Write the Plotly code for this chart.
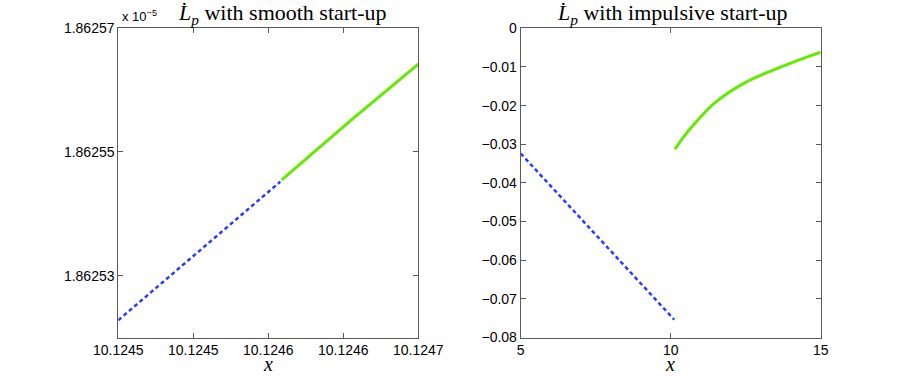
import plotly.graph_objects as go
from plotly.subplots import make_subplots

# left panel: smooth start-up (y in units of 1e-5)
smooth_x_before = [10.12450, 10.124550, 10.124608]
smooth_y_before = [1.8625228, 1.8625332, 1.8625452]
smooth_x_after = [10.124609, 10.124655, 10.12470]
smooth_y_after = [1.8625455, 1.8625551, 1.8625642]
smooth_xticks = [10.12450, 10.12455, 10.12460, 10.12465, 10.12470]
smooth_xticklabels = ["10.1245", "10.1245", "10.1246", "10.1246", "10.1247"]
smooth_yticks = [1.86253, 1.86255, 1.86257]

# right panel: impulsive start-up
imp_x_before = [5.0, 7.59, 10.12]
imp_y_before = [-0.0324, -0.0541, -0.0754]
imp_x_after = [10.14, 10.4, 10.75, 11.42, 12.42, 13.42, 14.31, 15.0]
imp_y_after = [-0.0313, -0.0284, -0.0251, -0.0196, -0.0143, -0.0108, -0.0081, -0.0062]
imp_yticks = [-0.08, -0.07, -0.06, -0.05, -0.04, -0.03, -0.02, -0.01, 0]

BLUE = "rgb(40,60,255)"
GREEN = "rgb(100,235,0)"
AXIS = "rgb(90,90,90)"
sans = "Liberation Sans, Arial, sans-serif"
serif = "Liberation Serif, DejaVu Serif, serif"
tick_font = dict(family=sans, size=14, color="black")

W, H = 914, 381


def px_x(s):
    return s / W


def px_y(s):
    return 1 - s / H


fig = make_subplots(rows=1, cols=2)

fig.add_trace(go.Scatter(x=smooth_x_before, y=smooth_y_before, mode="lines",
                         line=dict(color=BLUE, width=2.5, dash="4px,3px")), 1, 1)
fig.add_trace(go.Scatter(x=smooth_x_after, y=smooth_y_after, mode="lines",
                         line=dict(color=GREEN, width=3)), 1, 1)
fig.add_trace(go.Scatter(x=imp_x_before, y=imp_y_before, mode="lines",
                         line=dict(color=BLUE, width=2.5, dash="4px,3px")), 1, 2)
fig.add_trace(go.Scatter(x=imp_x_after, y=imp_y_after, mode="lines", line_shape="spline",
                         line=dict(color=GREEN, width=3)), 1, 2)

axis_common = dict(showgrid=False, zeroline=False, showline=True, linecolor=AXIS, linewidth=1,
                   mirror="ticks", ticks="inside", ticklen=5, tickcolor=AXIS,
                   tickfont=tick_font, automargin=False)

fig.update_xaxes(axis_common)
fig.update_yaxes(axis_common)

ydom = [px_y(337.5), px_y(28.3)]
fig.update_xaxes(domain=[px_x(118.3), px_x(418.3)], range=[10.12450, 10.12470],
                 tickvals=smooth_xticks, ticktext=smooth_xticklabels, row=1, col=1)
fig.update_yaxes(domain=ydom, range=[1.86252, 1.86257],
                 tickvals=smooth_yticks, ticktext=[f"{v:.5f}" for v in smooth_yticks], row=1, col=1)
fig.update_xaxes(domain=[px_x(520.7), px_x(820.7)], range=[5, 15], tickvals=[5, 10, 15],
                 row=1, col=2)
fig.update_yaxes(domain=ydom, range=[-0.08, 0], tickvals=imp_yticks,
                 ticktext=[("\u2212%.2f" % -v) if v < 0 else "0" for v in imp_yticks],
                 row=1, col=2)

title_font = dict(family=serif, size=22, color="black")
label_font = dict(family=serif, size=20, color="black")
annotations = [
    dict(text="<i>L\u0307</i><sub><i>p</i></sub> with smooth start-up", x=282, y=14, font=title_font),
    dict(text="<i>L\u0307</i><sub><i>p</i></sub> with impulsive start-up", x=672, y=14, font=title_font),
    dict(text="<i>x</i>", x=268, y=364, font=label_font),
    dict(text="<i>x</i>", x=670, y=364, font=label_font),
]
for a in annotations:
    fig.add_annotation(text=a["text"], x=px_x(a["x"]), y=px_y(a["y"]), xref="paper",
                       yref="paper", showarrow=False, font=a["font"],
                       xanchor="center", yanchor="middle")
fig.add_annotation(text="x 10<sup>\u22125</sup>", x=px_x(120), y=px_y(16), xref="paper",
                   yref="paper", showarrow=False, xanchor="left", yanchor="middle",
                   font=dict(family=sans, size=13, color="black"))

fig.update_layout(width=W, height=H, margin=dict(l=0, r=0, t=0, b=0),
                  showlegend=False, plot_bgcolor="white", paper_bgcolor="white")

# drop the default body margin so the figure fills the window exactly
fig.write_html("out.html", config={"displayModeBar": False},
               post_script="document.body.style.margin='0';")
